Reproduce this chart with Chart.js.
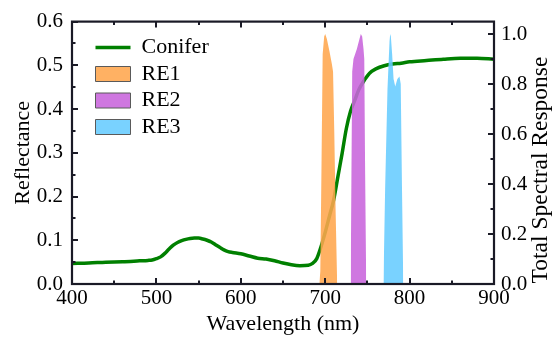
<!DOCTYPE html>
<html>
<head>
<meta charset="utf-8">
<script src="https://cdn.jsdelivr.net/npm/chart.js@4.4.0/dist/chart.umd.min.js"></script>
<style>
html, body { margin: 0; padding: 0; background: #fff; }
#cadre { width: 557px; height: 337px; }
</style>
</head>
<body>
<div id="cadre"><canvas id="graphique" width="557" height="337"></canvas></div>
<script>
// Réflectance du conifère
const coniferWl = [400, 420, 440, 460, 480, 490, 495, 500, 505, 510, 515, 520, 525, 530, 535, 540, 545, 550, 555, 560, 565, 570, 575, 580, 585, 590, 600, 610, 620, 630, 640, 650, 660, 670, 680, 685, 690, 695, 700, 705, 710, 715, 720, 725, 730, 735, 740, 745, 750, 755, 760, 770, 780, 790, 800, 820, 840, 860, 880, 900];
const coniferRefl = [0.047, 0.048, 0.050, 0.051, 0.053, 0.054, 0.055, 0.058, 0.062, 0.070, 0.080, 0.089, 0.095, 0.099, 0.102, 0.104, 0.105, 0.105, 0.103, 0.100, 0.096, 0.090, 0.084, 0.078, 0.074, 0.072, 0.069, 0.064, 0.059, 0.057, 0.053, 0.048, 0.044, 0.042, 0.043, 0.047, 0.058, 0.085, 0.118, 0.155, 0.192, 0.245, 0.298, 0.355, 0.395, 0.420, 0.445, 0.462, 0.476, 0.486, 0.492, 0.499, 0.503, 0.505, 0.508, 0.511, 0.514, 0.516, 0.516, 0.514];

// Réponses spectrales des bandes red-edge
const re1Wl = [693.0, 694.2, 695.7, 697.0, 698.8, 700.0, 702.0, 705.1, 707.9, 709.3, 710.8, 712.3, 714.2];
const re1Resp = [0, 0.05, 0.5, 0.92, 0.99, 1.0, 0.98, 0.93, 0.88, 0.85, 0.6, 0.3, 0];
const re2Wl = [730.2, 731.1, 732.0, 733.5, 737.5, 740.6, 742.2, 743.8, 745.4, 746.3, 747.3, 748.6];
const re2Resp = [0, 0.45, 0.85, 0.90, 0.94, 0.98, 1.0, 0.99, 0.94, 0.90, 0.45, 0];
const re3Wl = [769.0, 771.0, 773.8, 776.2, 777.0, 777.8, 779.3, 781.0, 783.0, 785.5, 788.0, 789.5, 791.0, 792.5];
const re3Resp = [0, 0.38, 0.78, 0.97, 1.0, 0.99, 0.92, 0.82, 0.79, 0.82, 0.83, 0.80, 0.38, 0];

// Graduations
const xTicks = [400, 500, 600, 700, 800, 900];
const reflTicks = [0, 0.1, 0.2, 0.3, 0.4, 0.5, 0.6];
const respTicks = [0, 0.2, 0.4, 0.6, 0.8, 1.0];

const police = '"Liberation Serif", "Times New Roman", serif';
const vert = '#008000';
const couleursBandes = ['rgba(255,166,77,0.88)', 'rgba(200,100,220,0.88)', 'rgba(102,204,255,0.88)'];

function points(xs, ys) {
    return xs.map((x, i) => ({ x: x, y: ys[i] }));
}

function bande(label, xs, ys, couleur) {
    return {
        label: label,
        data: points(xs, ys),
        yAxisID: "y2",
        fill: "origin",
        backgroundColor: couleur,
        borderColor: "rgba(0,0,0,0)",
        borderWidth: 0,
        pointRadius: 0,
        tension: 0,
        order: 0,
    };
}

function milieux(valeurs) {
    const res = [];
    for (let i = 0; i < valeurs.length - 1; i++) res.push((valeurs[i] + valeurs[i + 1]) / 2);
    return res;
}

// Cadre et graduations tournées vers l'intérieur
const cadreAxes = {
    id: "cadreAxes",
    afterDatasetsDraw(chart) {
        const { ctx, chartArea: a, scales } = chart;
        ctx.save();
        ctx.strokeStyle = "#1a1a26";
        ctx.lineWidth = 2;
        const trait = (x1, y1, x2, y2) => {
            ctx.beginPath();
            ctx.moveTo(x1, y1);
            ctx.lineTo(x2, y2);
            ctx.stroke();
        };
        const vertical = (valeurs, long) => valeurs.forEach(v => {
            const px = Math.round(scales.x.getPixelForValue(v));
            trait(px, a.bottom, px, a.bottom - long);
            trait(px, a.top, px, a.top + long);
        });
        vertical(xTicks, 6);
        vertical(milieux(xTicks), 3.5);
        const gauche = (valeurs, long) => valeurs.forEach(v => {
            const py = Math.round(scales.y.getPixelForValue(v));
            trait(a.left, py, a.left + long, py);
        });
        gauche(reflTicks, 6);
        gauche(milieux(reflTicks), 3.5);
        const droite = (valeurs, long) => valeurs.forEach(v => {
            const py = Math.round(scales.y2.getPixelForValue(v));
            trait(a.right, py, a.right - long, py);
        });
        droite(respTicks, 6);
        droite(milieux(respTicks), 3.5);
        ctx.lineWidth = 2.2;
        ctx.strokeRect(a.left, a.top, a.right - a.left, a.bottom - a.top);
        ctx.restore();
    },
    afterDraw(chart) {
        const { ctx } = chart;
        ctx.save();
        ctx.fillStyle = "#000";
        ctx.font = "23.5px " + police;
        ctx.textAlign = "center";
        ctx.textBaseline = "middle";
        ctx.translate(541, 170);
        ctx.rotate(-Math.PI / 2);
        ctx.fillText("Total Spectral Response", 0, 0);
        ctx.restore();
    }
};

// Décale la légende dans la zone du graphique
const decalageLegende = {
    id: "decalageLegende",
    afterLayout(chart) {
        const l = chart.legend;
        if (!l) return;
        l.left += 19;
        l.right += 19;
        l.top += 32;
        l.bottom += 32;
    }
};

const data = {
    datasets: [
        {
            label: "Conifer",
            data: points(coniferWl, coniferRefl),
            yAxisID: "y",
            borderColor: vert,
            borderWidth: 3.5,
            pointRadius: 0,
            fill: false,
            cubicInterpolationMode: "monotone",
            order: 1,
        },
        bande("RE1", re1Wl, re1Resp, couleursBandes[0]),
        bande("RE2", re2Wl, re2Resp, couleursBandes[1]),
        bande("RE3", re3Wl, re3Resp, couleursBandes[2]),
    ]
};

const graduations = valeurs => scale => { scale.ticks = valeurs.map(v => ({ value: v })); };

const config = {
    type: "line",
    data: data,
    options: {
        responsive: false,
        animation: false,
        devicePixelRatio: 1,
        layout: { padding: { top: 20, left: 0, right: 0, bottom: 0 } },
        plugins: {
            tooltip: { enabled: false },
            legend: {
                position: "chartArea",
                align: "start",
                labels: {
                    usePointStyle: true,
                    pointStyleWidth: 35,
                    boxHeight: 15,
                    padding: 4.5,
                    color: "#000",
                    font: { family: police, size: 22 },
                    generateLabels: chart => chart.data.datasets.map((d, i) => ({
                        text: d.label,
                        datasetIndex: i,
                        pointStyle: i === 0 ? "line" : "rect",
                        fillStyle: i === 0 ? vert : d.backgroundColor,
                        strokeStyle: i === 0 ? vert : "#5a5a5a",
                        lineWidth: i === 0 ? 3.5 : 1,
                        hidden: false,
                    })),
                }
            }
        },
        scales: {
            x: {
                type: "linear",
                min: 400,
                max: 900,
                afterBuildTicks: graduations(xTicks),
                afterFit: s => { s.height = 53; },
                grid: { display: false, drawTicks: false },
                border: { display: false },
                ticks: { color: "#000", font: { family: police, size: 21 }, padding: 2, maxRotation: 0, callback: v => v },
                title: { display: true, text: "Wavelength (nm)", color: "#000", font: { family: police, size: 22 }, padding: 0 },
            },
            y: {
                position: "left",
                min: 0,
                max: 0.6,
                afterBuildTicks: graduations(reflTicks),
                afterFit: s => { s.width = 72; },
                grid: { display: false, drawTicks: false },
                border: { display: false },
                ticks: { color: "#000", font: { family: police, size: 21 }, padding: 9, callback: v => v.toFixed(1) },
                title: { display: true, text: "Reflectance", color: "#000", font: { family: police, size: 22 }, padding: { top: 10 } },
            },
            y2: {
                position: "right",
                min: 0,
                max: 1.05,
                afterBuildTicks: graduations(respTicks),
                afterFit: s => { s.width = 63; },
                grid: { display: false, drawTicks: false },
                border: { display: false },
                ticks: { color: "#000", font: { family: police, size: 21 }, padding: 7, callback: v => v.toFixed(1) },
            }
        }
    },
    plugins: [cadreAxes, decalageLegende]
};

new Chart(document.getElementById("graphique").getContext("2d"), config);
</script>
</body>
</html>
